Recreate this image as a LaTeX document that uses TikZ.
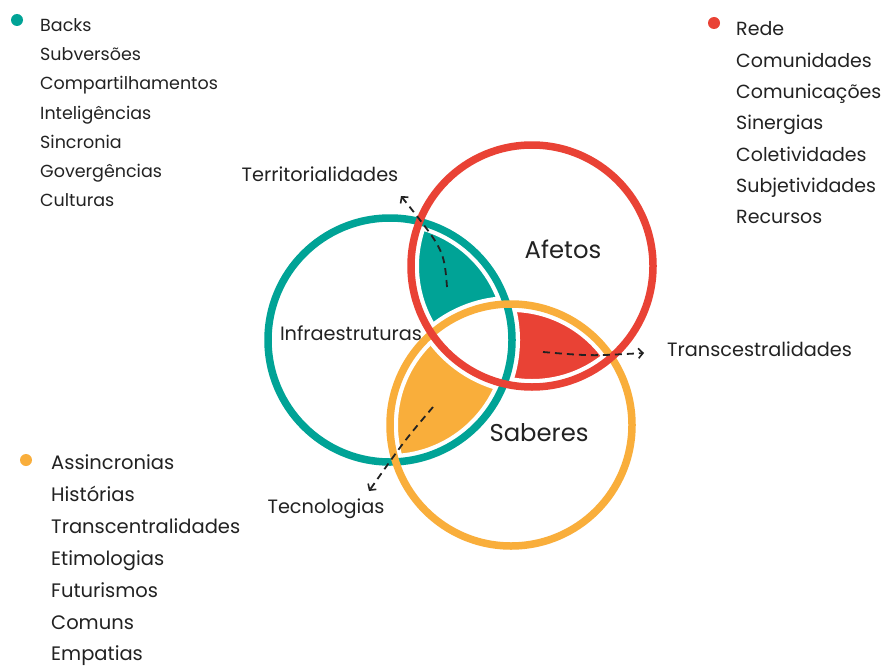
\documentclass[tikz,border=0pt]{standalone}
\usepackage{fontspec}
\setmainfont{Poppins}
\usetikzlibrary{arrows.meta}
\definecolor{cteal}{HTML}{00A396}
\definecolor{cred}{HTML}{E94235}
\definecolor{corange}{HTML}{F9AE3B}
\definecolor{ctext}{HTML}{222222}
\begin{document}
\begin{tikzpicture}[x=1pt,y=-1pt,
  listtxt/.style={anchor=base west,inner sep=0pt,text=ctext,font=\fontsize{17.5}{20}\selectfont},
  listtxtb/.style={listtxt,font=\fontsize{19}{22}\selectfont},
  listtxtc/.style={listtxt,font=\fontsize{19.5}{22}\selectfont},
  lbl/.style={anchor=base,inner sep=0pt,text=ctext,font=\fontsize{19.3}{22}\selectfont},
  biglbl/.style={anchor=base,inner sep=0pt,text=ctext,font=\fontsize{24.3}{27}\selectfont},
  ring/.style={line width=7.5pt},
  halo/.style={white,line width=16pt},
  dasharrow/.style={ctext,line width=1.8pt,dash pattern=on 7pt off 5pt,-{Straight Barb[length=4.5pt,width=10pt,line width=1.6pt]}}
]
\useasboundingbox (0,0) rectangle (882,666);
\fill[white] (0,0) rectangle (882,666);
\coordinate (T) at (390,340);
\coordinate (R) at (532,266);
\coordinate (O) at (511,425);
% lens fills
\begin{scope}
  \clip (T) circle[radius=122pt];
  \clip (R) circle[radius=121pt];
  \fill[cteal] (250,100) rectangle (700,560);
  \fill[white] (O) circle[radius=121pt];
\end{scope}
\begin{scope}
  \clip (R) circle[radius=121pt];
  \clip (O) circle[radius=121pt];
  \fill[cred] (250,100) rectangle (700,560);
  \fill[white] (T) circle[radius=122pt];
\end{scope}
\begin{scope}
  \clip (O) circle[radius=121pt];
  \clip (T) circle[radius=122pt];
  \fill[corange] (250,100) rectangle (700,560);
  \fill[white] (R) circle[radius=121pt];
\end{scope}
% halos
\draw[halo] (T) circle[radius=122pt];
\draw[halo] (R) circle[radius=121pt];
\draw[halo] (O) circle[radius=121pt];
% rings
\draw[ring,cteal] (T) circle[radius=122pt];
\draw[ring,corange] (O) circle[radius=121pt];
\draw[ring,cred] (R) circle[radius=121pt];
% labels
\node[biglbl] (afetos) at (563,258) {Afetos};
\node[biglbl] (saberes) at (539,441) {Saberes};
\node[lbl] (infra) at (351,340) {Infraestruturas};
\node[lbl] (terr) at (320,181) {Territorialidades};
\node[lbl,anchor=base west] (trans) at (667,356) {Transcestralidades};
\node[lbl] (tec) at (326,513) {Tecnologias};
% arrows
\coordinate (a1s) at (447,287);
\coordinate (a1e) at (401,196);
\coordinate (a2s) at (543,352);
\coordinate (a2e) at (644,353);
\coordinate (a3s) at (433,407);
\coordinate (a3e) at (369,491);
\draw[dasharrow] (a1s) .. controls (444,250) .. (a1e);
\draw[dasharrow] (a2s) .. controls (590,356) .. (a2e);
\draw[dasharrow] (a3s) .. controls (405,440) .. (a3e);
% bullets
\fill[cteal] (17,20) circle[radius=6pt];
\fill[cred] (714,23) circle[radius=6pt];
\fill[corange] (26,460) circle[radius=6pt];
% left list
\node[listtxt] (l1) at (40,32) {Backs};
\node[listtxt] (l2) at (40,61) {Subversões};
\node[listtxt] (l3) at (40,90) {Compartilhamentos};
\node[listtxt] (l4) at (40,119) {Inteligências};
\node[listtxt] (l5) at (40,148) {Sincronia};
\node[listtxt] (l6) at (40,177) {Govergências};
\node[listtxt] (l7) at (40,206) {Culturas};
% right list
\node[listtxtb] (r1) at (736,36) {Rede};
\node[listtxtb] (r2) at (736,67.3) {Comunidades};
\node[listtxtb] (r3) at (736,98.6) {Comunicações};
\node[listtxtb] (r4) at (736,129.9) {Sinergias};
\node[listtxtb] (r5) at (736,161.2) {Coletividades};
\node[listtxtb] (r6) at (736,192.5) {Subjetividades};
\node[listtxtb] (r7) at (736,223.8) {Recursos};
% bottom list
\node[listtxtc] (b1) at (51,469) {Assincronias};
\node[listtxtc] (b2) at (51,501) {Histórias};
\node[listtxtc] (b3) at (51,533) {Transcentralidades};
\node[listtxtc] (b4) at (51,565) {Etimologias};
\node[listtxtc] (b5) at (51,597) {Futurismos};
\node[listtxtc] (b6) at (51,629) {Comuns};
\node[listtxtc] (b7) at (51,660) {Empatias};
\end{tikzpicture}
\end{document}
